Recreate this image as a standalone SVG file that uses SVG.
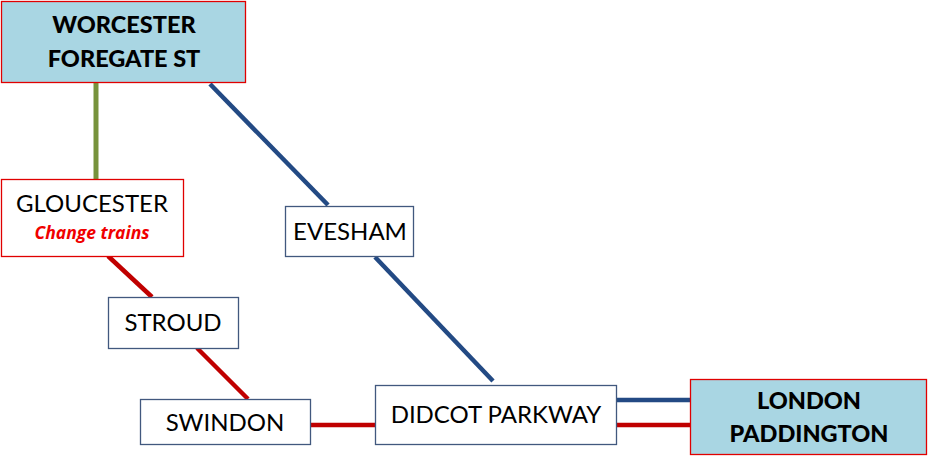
<svg xmlns="http://www.w3.org/2000/svg" width="928" height="456" viewBox="0 0 928 456">
<style>
.box{fill:#fff;stroke:#41587E;stroke-width:1.3}
.term{fill:#A9D6E3;stroke:#E00000;stroke-width:1.3}
.red{fill:#fff;stroke:#E00000;stroke-width:1.3}
.t{font-family:Lato,"Open Sans",sans-serif;font-size:24px;fill:#000;text-anchor:middle}
.b{font-weight:900;font-size:23.5px}
.ct{font-family:"Open Sans",Lato,sans-serif;font-size:17.5px;font-weight:bold;font-style:italic;fill:#F00000;text-anchor:middle}
.lb{stroke:#234A84;stroke-width:4.5;fill:none}
.lr{stroke:#C00000;stroke-width:4.5;fill:none}
.lg{stroke:#77933C;stroke-width:5;fill:none}
</style>
<rect width="928" height="456" fill="#fff"/>
<g id="connectors">
<line class="lg" x1="96" y1="82" x2="96" y2="179"/>
<line class="lb" x1="210" y1="84" x2="328" y2="205"/>
<line class="lb" x1="375" y1="257" x2="493" y2="381"/>
<line class="lr" x1="108" y1="256" x2="152" y2="297"/>
<line class="lr" x1="197" y1="348" x2="248" y2="399"/>
<line class="lr" x1="310" y1="425" x2="375" y2="425"/>
<line class="lb" x1="616" y1="400" x2="690" y2="400"/>
<line class="lr" x1="616" y1="425" x2="692" y2="425"/>
</g>
<g id="worcester">
<rect class="term" x="1.5" y="1.5" width="244" height="81"/>
<text class="t b" x="124" y="33">WORCESTER</text>
<text class="t b" x="124" y="67">FOREGATE ST</text>
</g>
<g id="gloucester">
<rect class="red" x="1.5" y="179.5" width="182" height="77"/>
<text class="t" x="92" y="212">GLOUCESTER</text>
<text class="ct" x="92" y="239">Change trains</text>
</g>
<g id="evesham">
<rect class="box" x="285.5" y="206.5" width="128" height="50"/>
<text class="t" x="350" y="240">EVESHAM</text>
</g>
<g id="stroud">
<rect class="box" x="108.5" y="297.5" width="130" height="51"/>
<text class="t" x="173" y="331">STROUD</text>
</g>
<g id="swindon">
<rect class="box" x="140.5" y="399.5" width="170" height="45"/>
<text class="t" x="225" y="431">SWINDON</text>
</g>
<g id="didcot">
<rect class="box" x="375.5" y="385.5" width="241" height="59"/>
<text class="t" x="496" y="423">DIDCOT PARKWAY</text>
</g>
<g id="london">
<rect class="term" x="690.5" y="379.5" width="236" height="75"/>
<text class="t b" x="809" y="409">LONDON</text>
<text class="t b" x="809" y="442">PADDINGTON</text>
</g>
</svg>
